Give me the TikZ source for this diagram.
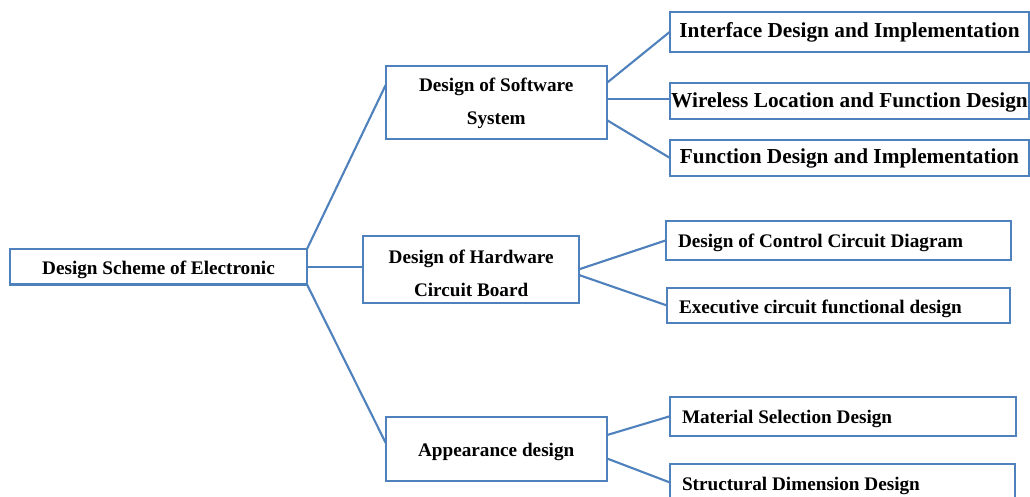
\documentclass[tikz,border=0pt]{standalone}
\usepackage{fontspec}
\setmainfont{Liberation Serif}
\usepackage{xcolor}
\usetikzlibrary{positioning}
\definecolor{lineblue}{RGB}{79,129,189}

\begin{document}
\begin{tikzpicture}[
  blk/.style={draw=lineblue, line width=2.1pt, align=center, inner sep=1pt, outer sep=0pt,
    text height=19.5pt, font=\fontsize{19.2pt}{33pt}\selectfont\bfseries},
  mainbox/.style={blk, minimum width=221pt},
  leafbig/.style={blk, minimum width=359pt, text height=16.5pt, font=\fontsize{21.3pt}{26pt}\selectfont\bfseries},
  leaf/.style={blk, align=flush left, inner xsep=12pt},
  lnk/.style={draw=lineblue, line width=2.1pt}]
  \fill[white] (0,0) rectangle (1030pt,-497pt);
  \useasboundingbox (0,0) rectangle (1030pt,-497pt);
  \clip (0,0) rectangle (1030pt,-497pt);
  % first level
  \node[blk, minimum width=297pt, minimum height=35.5pt] (scheme) at (158.5pt,-266.75pt) {Design Scheme of Electronic};
  \node[mainbox, minimum height=73.6pt, text height=48pt, right=78.7pt of scheme, yshift=164.25pt] (soft) {Design of Software\\System};
  \node[blk, minimum width=215.7pt, minimum height=66.7pt, text height=54pt, right=56.3pt of scheme, yshift=-2.6pt] (hard) {Design of Hardware\\Circuit Board};
  \node[mainbox, minimum height=64pt, right=78.7pt of scheme, yshift=-181.95pt] (look) {Appearance design};
  % software branch
  \node[leafbig, minimum height=40pt, right=63.3pt of soft, yshift=70.8pt] (iface) {Interface Design and Implementation};
  \node[leafbig, minimum height=36pt, right=63.3pt of soft, yshift=1.2pt] (wloc) {Wireless Location and Function Design};
  \node[leafbig, minimum height=36pt, right=63.3pt of soft, yshift=-55.5pt] (func) {Function Design and Implementation};
  % hardware branch
  \node[leaf, text width=321pt, minimum height=39.3pt, right=87pt of hard, yshift=29pt] (ctrl) {Design of Control Circuit Diagram};
  \node[leaf, text width=319pt, minimum height=35.6pt, right=88pt of hard, yshift=-36.15pt] (exec) {Executive circuit functional design};
  % appearance branch
  \node[leaf, text width=322pt, minimum height=39pt, right=63.3pt of look, yshift=32.5pt] (mat) {Material Selection Design};
  \node[leaf, text width=321pt, minimum height=37pt, right=63.3pt of look, yshift=-33.8pt] (dim) {Structural Dimension Design};
  \draw[lnk] (scheme.north east)--(soft.171); \draw[lnk] (scheme.east)--(scheme.east -| hard.west); \draw[lnk] (scheme.south east)--(look.177);
  \draw[lnk] (soft.10)--(iface.west); \draw[lnk] (soft.2)--(soft.2 -| wloc.west); \draw[lnk] (soft.-9)--(func.west);
  \draw[lnk] (hard.east)--(ctrl.west); \draw[lnk] (hard.-3)--(exec.west);
  \draw[lnk] (look.7)--(mat.west); \draw[lnk] (look.-5)--(dim.west);
\end{tikzpicture}
\end{document}
